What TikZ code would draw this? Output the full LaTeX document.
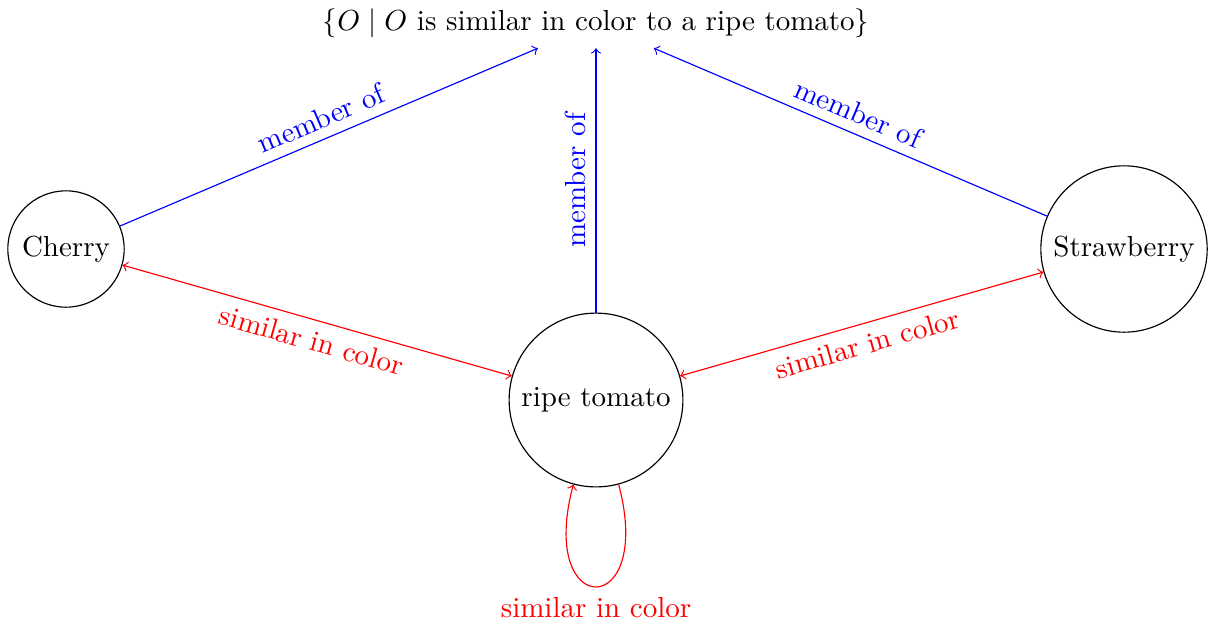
\documentclass[tikz,border=0pt]{standalone}
\begin{document}
\begin{tikzpicture}[x=0.345pt,y=0.345pt,
  ent/.style={circle,draw},
  mem/.style={->,blue},
  sim/.style={<->,red}]
\useasboundingbox (0,0) rectangle (1208,-625);
\node (T) at (596,-23.5) {$\{O \mid O$ is similar in color to a ripe tomato$\}$};
\node[ent] (C) at (66,-249) {Cherry};
\node[ent] (R) at (596,-400) {ripe tomato};
\node[ent] (S) at (1124,-249) {Strawberry};
\draw[mem] (C) -- node[above,sloped]{member of} (T);
\draw[mem] (R) -- node[above,sloped]{member of} (T);
\draw[mem] (S) -- node[above,sloped]{member of} (T);
\draw[sim] (C) -- node[below,sloped]{similar in color} (R);
\draw[sim] (R) -- node[below,sloped]{similar in color} (S);
\draw[->,red] (R) to[loop below] node[below]{similar in color} (R);
\end{tikzpicture}
\end{document}
